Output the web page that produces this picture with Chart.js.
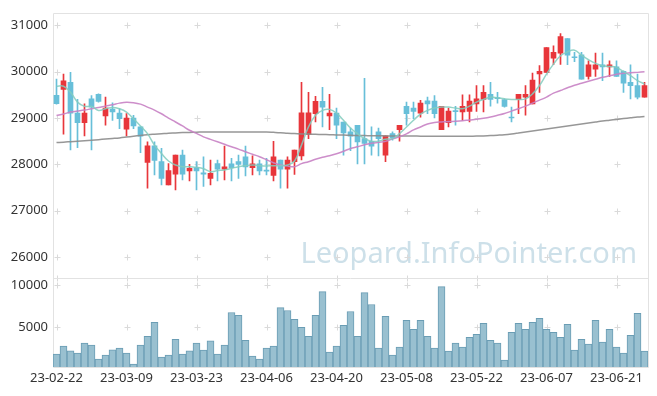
<!DOCTYPE html>
<html>
<head>
<meta charset="utf-8">
<script src="https://cdn.jsdelivr.net/npm/chart.js@4.4.1/dist/chart.umd.min.js"></script>
<style>
  html, body { margin: 0; padding: 0; background: #fff; }
  #wrap { width: 657px; height: 396px; }
</style>
</head>
<body>
<div id="wrap"><canvas id="chart" width="657" height="396"></canvas></div>
<script>
// =================== DATA ===================
const labels = [
  "23-02-22","23-02-23","23-02-24","23-02-27","23-02-28","23-03-02","23-03-03","23-03-06","23-03-07","23-03-08",
  "23-03-09","23-03-10","23-03-13","23-03-14","23-03-15","23-03-16","23-03-17","23-03-20","23-03-21","23-03-22",
  "23-03-23","23-03-24","23-03-27","23-03-28","23-03-29","23-03-30","23-03-31","23-04-03","23-04-04","23-04-05",
  "23-04-06","23-04-07","23-04-10","23-04-11","23-04-12","23-04-13","23-04-14","23-04-17","23-04-18","23-04-19",
  "23-04-20","23-04-21","23-04-24","23-04-25","23-04-26","23-04-27","23-04-28","23-05-02","23-05-03","23-05-04",
  "23-05-08","23-05-09","23-05-10","23-05-11","23-05-12","23-05-15","23-05-16","23-05-17","23-05-18","23-05-19",
  "23-05-22","23-05-23","23-05-24","23-05-25","23-05-26","23-05-30","23-05-31","23-06-01","23-06-02","23-06-05",
  "23-06-07","23-06-08","23-06-09","23-06-12","23-06-13","23-06-14","23-06-15","23-06-16","23-06-19","23-06-20",
  "23-06-21","23-06-22","23-06-23","23-06-26","23-06-27"
];

const opens = [
  29490,29615,29770,29105,28900,29415,29510,29045,29195,29105,
  28760,29000,28810,28045,28400,28060,27560,27790,28200,27860,
  27930,27820,27700,28020,27895,28015,28060,28165,27930,28015,
  27875,27760,28095,27895,28060,28185,28645,29095,29360,29045,
  29105,28915,28700,28845,28555,28500,28700,28200,28665,28750,
  29255,29215,29105,29370,29365,28750,28900,29160,29130,29145,
  29305,29400,29510,29440,29400,29020,29400,29450,29305,29950,
  29985,30290,30400,30715,30320,30365,29900,30055,30150,30105,
  30105,30005,29770,29700,29450
];
const highs = [
  29840,29950,29985,29405,29305,29485,29520,29450,29330,29200,
  29095,29060,28810,28485,28485,28345,28020,28200,28310,28000,
  28060,28165,28095,28095,28395,28130,28200,28395,28185,28095,
  28130,28500,28095,28165,28310,29770,29555,29470,29665,29510,
  29215,28915,28785,28845,29855,28810,28785,28615,28700,28845,
  29345,29345,29380,29450,29485,29255,29215,29255,29500,29500,
  29700,29700,29770,29555,29415,29235,29510,29700,29970,30130,
  30520,30555,30820,30715,30415,30415,30235,30400,30400,30235,
  30235,30020,30150,29950,29770
];
const lows = [
  29300,28650,28315,28360,28615,28315,29345,28845,28950,28770,
  28615,28770,28255,27485,27775,27560,27560,27450,27665,27645,
  27450,27525,27560,27645,27665,27645,27700,27750,27775,27775,
  27775,27645,27485,27485,27785,28095,28555,28915,28810,28750,
  28555,28200,28295,28010,28010,28200,28185,28060,28525,28500,
  28845,28985,29020,29095,29000,28750,28810,28845,28950,28915,
  29145,29130,29255,29320,29235,28915,29095,29060,29305,29555,
  29985,30150,30155,30150,30215,29840,29840,29900,29805,29900,
  29900,29555,29415,29415,29450
];
const closes = [
  29310,29805,29105,28900,29105,29235,29360,29215,29130,28985,
  29000,28830,28610,28400,28085,27700,27865,28200,27790,27915,
  27860,27790,27810,27895,27950,27930,28000,27945,28015,27860,
  27855,28165,27895,28095,28310,29115,29115,29360,29235,29105,
  28845,28680,28610,28485,28450,28395,28555,28615,28570,28845,
  29095,29145,29320,29305,29095,29255,29150,29140,29255,29365,
  29415,29555,29400,29420,29250,29000,29510,29510,29820,30005,
  30520,30415,30755,30355,30300,29840,30150,30150,30105,30150,
  29900,29750,29700,29450,29700
];
const volumes = [
  1810,2750,2200,1930,3110,2870,1220,1690,2320,2520,
  1930,630,2870,3940,5590,1450,1690,3580,1810,2200,
  3110,2280,3380,1810,2870,6770,6420,3460,1570,1220,
  2520,2750,7360,7010,5950,5000,3940,6420,9260,2050,
  2750,5240,6890,3940,9140,7720,2520,6300,1690,2640,
  5830,4760,5830,3940,2520,9850,2160,3110,2640,3820,
  4170,5470,3460,3110,1100,4410,5470,4760,5590,6060,
  4760,4410,3820,5360,2280,3580,2990,5830,3230,4760,
  2640,1930,4050,6660,2160
];
const ma5 = [
  29686,29686,29557,29343,29251,29251,29165,29200,29230,29200,
  29129,28985,28829,28664,28416,28236,28073,27988,27951,27951,
  27936,27908,27844,27866,27881,27915,27951,27973,27988,27973,
  27966,27973,27973,27988,28073,28416,28808,29058,29165,29187,
  29108,28951,28786,28664,28557,28502,28502,28544,28557,28664,
  28808,28951,29086,29165,29215,29236,29236,29215,29200,29257,
  29343,29401,29450,29435,29414,29401,29401,29414,29521,29701,
  29949,30163,30343,30428,30463,30356,30257,30178,30129,30114,
  30092,30000,29915,29808,29735
];
const ma20 = [
  29054,29086,29129,29150,29172,29200,29225,29257,29285,29322,
  29343,29332,29300,29236,29172,29092,29000,28915,28829,28737,
  28669,28594,28540,28487,28433,28380,28330,28273,28219,28165,
  28101,28037,27988,27966,27951,28016,28058,28112,28155,28187,
  28230,28283,28343,28380,28422,28454,28476,28497,28551,28594,
  28658,28744,28808,28872,28904,28915,28925,28930,28940,28958,
  28973,28994,29022,29058,29097,29150,29200,29257,29322,29386,
  29450,29536,29594,29653,29707,29750,29793,29835,29878,29910,
  29943,29964,29975,29985,29996
];
const ma60 = [
  28472,28480,28491,28502,28512,28523,28534,28547,28559,28572,
  28589,28607,28624,28639,28651,28662,28673,28679,28686,28690,
  28694,28699,28701,28701,28701,28701,28701,28701,28701,28701,
  28699,28692,28684,28673,28664,28658,28654,28649,28645,28641,
  28636,28632,28628,28624,28621,28619,28617,28615,28615,28613,
  28611,28611,28609,28609,28609,28609,28609,28609,28609,28609,
  28611,28615,28621,28630,28641,28658,28679,28701,28722,28744,
  28765,28786,28808,28829,28851,28872,28893,28915,28936,28953,
  28970,28988,29005,29022,29035
];
const priceTicks = [26000, 27000, 28000, 29000, 30000, 31000];
const volTicks = [5000, 10000];

// =================== COLORS ===================
const UP = "#e8363b";
const DOWN = "#68bfd9";
const candleColor = ctx => closes[ctx.dataIndex] >= opens[ctx.dataIndex] ? UP : DOWN;

// frame, "+" grid marks and watermark
const framePlugin = {
  id: "frame",
  beforeDatasetsDraw(chart) {
    const { ctx, chartArea: a, scales } = chart;
    const yP = scales.y, yV = scales.yVol, x = scales.x;
    ctx.save();

    ctx.font = '29px "Noto Sans", sans-serif';
    ctx.fillStyle = "rgba(150,190,210,0.48)";
    ctx.textAlign = "right";
    ctx.textBaseline = "alphabetic";
    ctx.fillText("Leopard.InfoPointer.com", a.right - 11, yP.bottom - 15);

    const xs = [];
    for (let i = 0; i < labels.length; i += 10) xs.push(Math.round(x.getPixelForValue(i)) + 0.5);
    const ys = [];
    priceTicks.forEach(v => ys.push(Math.round(yP.getPixelForValue(v)) + 0.5));
    ys.push(Math.round(yP.bottom) + 0.5);
    volTicks.forEach(v => ys.push(Math.round(yV.getPixelForValue(v)) + 0.5));

    ctx.strokeStyle = "#dadada";
    ctx.lineWidth = 1;
    ctx.beginPath();
    xs.forEach(px => ys.forEach(py => {
      ctx.moveTo(px - 3, py); ctx.lineTo(px + 3, py);
      ctx.moveTo(px, py - 3); ctx.lineTo(px, py + 3);
    }));
    ctx.stroke();

    ctx.strokeStyle = "#e2e2e2";
    ctx.beginPath();
    ctx.rect(Math.round(a.left) + 0.5, Math.round(a.top) + 0.5, Math.round(a.width), Math.round(a.height));
    ctx.moveTo(a.left, Math.round(yP.bottom) + 0.5);
    ctx.lineTo(a.right, Math.round(yP.bottom) + 0.5);
    ctx.stroke();
    ctx.restore();
  }
};

Chart.defaults.font.family = '"Noto Sans", sans-serif';
Chart.defaults.font.size = 13;
Chart.defaults.color = "#333";

new Chart(document.getElementById("chart"), {
  type: "bar",
  data: {
    labels: labels,
    datasets: [
      { type: "line", label: "MA5", data: ma5, yAxisID: "y", borderColor: "rgba(130,205,190,0.85)",
        borderWidth: 1.5, pointRadius: 0, tension: 0.4, order: 0 },
      { type: "line", label: "MA20", data: ma20, yAxisID: "y", borderColor: "rgba(200,130,196,0.9)",
        borderWidth: 1.5, pointRadius: 0, tension: 0.4, order: 0 },
      { type: "line", label: "MA60", data: ma60, yAxisID: "y", borderColor: "rgba(140,140,140,0.9)",
        borderWidth: 1.5, pointRadius: 0, tension: 0.4, order: 0 },
      { label: "wick", data: lows.map((l, i) => [l, highs[i]]), yAxisID: "y",
        backgroundColor: candleColor, barThickness: 1, grouped: false, order: 1 },
      { label: "body", data: opens.map((o, i) => [o, closes[i]]), yAxisID: "y",
        backgroundColor: candleColor, barThickness: 5, minBarLength: 1, grouped: false, order: 1 },
      { label: "volume", data: volumes, yAxisID: "yVol",
        backgroundColor: "#99c0d0", borderColor: "#6a9db4", borderWidth: 1,
        barPercentage: 1, categoryPercentage: 1, grouped: false, order: 2 }
    ]
  },
  options: {
    responsive: false,
    animation: false,
    layout: { padding: { top: 10, right: 9, left: 0, bottom: 0 } },
    plugins: { legend: { display: false }, tooltip: { enabled: false } },
    scales: {
      x: {
        offset: true,
        grid: { display: false, drawTicks: false },
        border: { display: false },
        ticks: {
          autoSkip: false, maxRotation: 0, padding: 3,
          callback: function (v, i) { return i % 10 === 0 ? this.getLabelForValue(v) : null; }
        },
        afterFit: s => { s.height = 29; }
      },
      yVol: {
        position: "left", stack: "main", stackWeight: 1,
        min: 270, max: 10830,
        grid: { display: false, drawTicks: false },
        border: { display: false },
        ticks: { padding: 5, callback: v => String(v) },
        afterBuildTicks: s => { s.ticks = volTicks.map(v => ({ value: v })); },
        afterFit: s => { s.width = 53; }
      },
      y: {
        position: "left", stack: "main", stackWeight: 3,
        min: 25540, max: 31270,
        grid: { display: false, drawTicks: false },
        border: { display: false },
        ticks: { padding: 5, callback: v => String(v) },
        afterBuildTicks: s => { s.ticks = priceTicks.map(v => ({ value: v })); },
        afterFit: s => { s.width = 53; }
      }
    }
  },
  plugins: [framePlugin]
});
</script>
</body>
</html>
